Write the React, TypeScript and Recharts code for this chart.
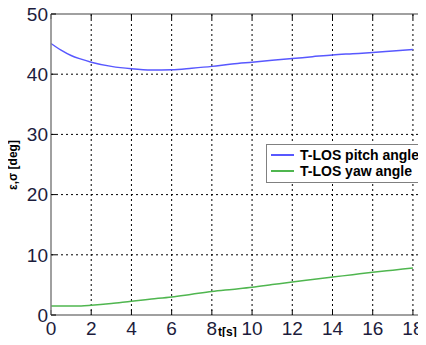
import { CartesianGrid, Line, LineChart, XAxis, YAxis } from "recharts";

// time axis [s]
const time = [0, 0.5, 1, 1.5, 2, 3, 4, 5, 6, 7, 8, 9, 10, 11, 12, 13, 14, 15, 16, 17, 18];
// T-LOS pitch angle [deg]
const pitch = [45.1, 44.0, 43.1, 42.5, 42.0, 41.3, 40.9, 40.7, 40.75, 41.0, 41.3, 41.7, 42.0, 42.3, 42.6, 42.9, 43.2, 43.4, 43.6, 43.85, 44.1];
// T-LOS yaw angle [deg]
const yaw = [1.5, 1.5, 1.5, 1.5, 1.6, 1.9, 2.3, 2.65, 3.0, 3.45, 3.9, 4.25, 4.6, 5.05, 5.5, 5.9, 6.3, 6.7, 7.1, 7.45, 7.8];

const xTicks = [0, 2, 4, 6, 8, 10, 12, 14, 16, 18];
const yTicks = [0, 10, 20, 30, 40, 50];

const data = time.map((t, i) => ({ t, pitch: pitch[i], yaw: yaw[i] }));

const BLUE = "#5858ff";
const GREEN = "#4fb64f";
const AXIS = "#808080";
const TICK_TEXT = "#1c1c3c";
const FONT = "'Liberation Sans', Arial, sans-serif";

const legendItems = [
  { label: "T-LOS pitch angle", color: BLUE },
  { label: "T-LOS yaw angle", color: GREEN },
];

function LegendBox() {
  return (
    <div
      style={{
        position: "absolute",
        left: 266,
        top: 144,
        width: 170,
        background: "#fff",
        border: `1px solid ${AXIS}`,
        padding: "2px 4px 3px 4px",
        fontFamily: FONT,
        fontWeight: "bold",
        fontSize: 14,
        lineHeight: "16px",
        color: "#000",
        whiteSpace: "nowrap",
      }}
    >
      {legendItems.map((it) => (
        <div key={it.label} style={{ display: "flex", alignItems: "center" }}>
          <span style={{ display: "inline-block", width: 23, height: 2, background: it.color, marginRight: 6 }} />
          {it.label}
        </div>
      ))}
    </div>
  );
}

export default function App() {
  return (
    <div style={{ margin: -8, width: 426, height: 345, overflow: "hidden", position: "relative", background: "#fff" }}>
      <LineChart width={426} height={345} data={data} margin={{ top: 0, right: 0, bottom: 0, left: 0 }}>
        <CartesianGrid stroke="#000" strokeDasharray="2 3" horizontalValues={[10, 20, 30, 40]} verticalValues={xTicks.slice(1)} />
        <XAxis
          dataKey="t"
          type="number"
          domain={[0, 18.65]}
          ticks={xTicks}
          height={30}
          axisLine={{ stroke: AXIS, strokeWidth: 1.5 }}
          tickLine={{ stroke: "#000" }}
          tickSize={-5}
          tickMargin={12}
          tick={{ fill: TICK_TEXT, fontSize: 19, fontFamily: FONT }}
        />
        <XAxis
          xAxisId="top"
          dataKey="t"
          type="number"
          orientation="top"
          domain={[0, 18.65]}
          ticks={xTicks}
          height={14}
          axisLine={{ stroke: AXIS, strokeWidth: 1.5 }}
          tickLine={{ stroke: "#000" }}
          tickSize={-5}
          tickFormatter={() => ""}
        />
        <YAxis
          type="number"
          domain={[0, 50]}
          ticks={yTicks}
          width={51}
          axisLine={{ stroke: AXIS, strokeWidth: 1.5 }}
          tickLine={{ stroke: "#000" }}
          tickSize={-5}
          tickMargin={8}
          tick={{ fill: TICK_TEXT, fontSize: 19, fontFamily: FONT }}
        />
        <Line dataKey="pitch" stroke={BLUE} strokeWidth={1.5} dot={false} type="monotone" isAnimationActive={false} />
        <Line dataKey="yaw" stroke={GREEN} strokeWidth={1.5} dot={false} type="monotone" isAnimationActive={false} />
        <text x={14} y={165} transform="rotate(-90 14 165)" textAnchor="middle" dominantBaseline="middle" fontFamily={FONT} fontWeight="bold" fontSize={12} fill="#000">
          ε,σ [deg]
        </text>
        <text x={218} y={336} fontFamily={FONT} fontWeight="bold" fontSize={12} fill="#000">
          t[s]
        </text>
      </LineChart>
      <LegendBox />
    </div>
  );
}
